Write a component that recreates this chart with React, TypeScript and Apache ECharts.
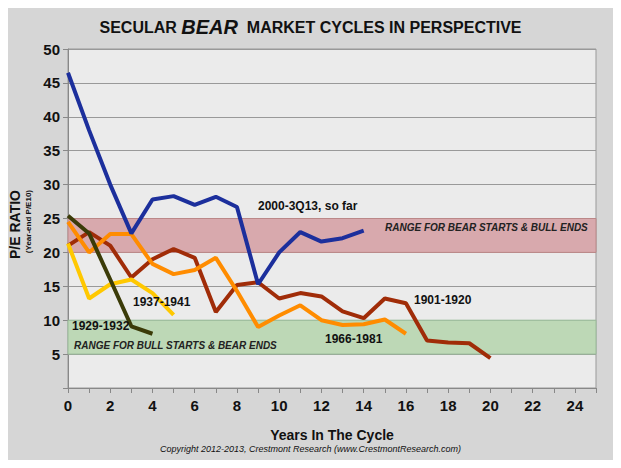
import * as echarts from 'echarts';
import { useEffect, useRef } from 'react';

const years = Array.from({ length: 21 }, (_, i) => i);
const bear2000 = [46.5, 38, 30, 22.8, 27.8, 28.3, 27, 28.2, 26.7, 15.3, 20, 23, 21.6, 22.1, 23.2];
const bear1901 = [21, 23, 21, 16.3, 19, 20.5, 19.2, 11.2, 15.2, 15.6, 13.2, 14, 13.5, 11.3, 10.3, 13.2, 12.5, 7, 6.7, 6.6, 4.4];
const bear1966 = [24.5, 20, 22.7, 22.7, 18.3, 16.8, 17.4, 19.2, 14.3, 9, 10.7, 12.2, 10, 9.3, 9.4, 10.1, 8];
const bear1937 = [21.3, 13.2, 15.3, 16, 14, 10.8];
const bear1929 = [25.4, 22.8, 16, 9.1, 8];

const toPairs = (vals: number[]) => vals.map((v, i) => [years[i], v]);

const App = () => {
    const chartRef = useRef<HTMLDivElement>(null);

    useEffect(() => {
        if (!chartRef.current) return;
        const chart = echarts.init(chartRef.current, null, { renderer: 'svg' });
        const line = (name: string, data: number[], color: string, extra: any = {}) => ({
            name,
            type: 'line',
            data: toPairs(data),
            symbol: 'none',
            lineStyle: { color, width: 4 },
            z: 3,
            ...extra,
        });
        const lbl = (text: string, x: number, y: number) => ({
            type: 'text', left: x, top: y, z: 10,
            style: { text, font: 'bold 12px Arial, "Liberation Sans"', fill: '#111' },
        });

        chart.setOption({
            animation: false,
            backgroundColor: '#d6d6d6',
            title: {
                text: '{n|SECULAR }{b|BEAR}{n|  MARKET CYCLES IN PERSPECTIVE}',
                left: 'center',
                top: 12,
                textStyle: {
                    rich: {
                        n: { fontSize: 16, fontWeight: 'bold', color: '#111', fontFamily: 'Arial, "Liberation Sans"' },
                        b: { fontSize: 20, fontWeight: 'bold', fontStyle: 'italic', color: '#111', fontFamily: 'Arial, "Liberation Sans"' },
                    },
                },
            },
            grid: { left: 68, right: 25, top: 49, bottom: 80, show: true, backgroundColor: '#ebebeb', borderColor: '#999' },
            xAxis: {
                type: 'value', min: 0, max: 25, interval: 1,
                name: 'Years In The Cycle', nameLocation: 'middle', nameGap: 40,
                nameTextStyle: { fontSize: 14, fontWeight: 'bold', color: '#111', fontFamily: 'Arial, "Liberation Sans"' },
                axisLabel: {
                    fontSize: 15, fontWeight: 'bold', color: '#111', margin: 10,
                    formatter: (v: number) => (v % 2 === 0 && v <= 24 ? String(v) : ''),
                },
                axisLine: { lineStyle: { color: '#888' } },
                axisTick: { show: true, interval: 0, lineStyle: { color: '#888' } },
                splitLine: { show: false },
            },
            yAxis: {
                type: 'value', min: 0, max: 50, interval: 5,
                axisLabel: {
                    fontSize: 15, fontWeight: 'bold', color: '#111',
                    formatter: (v: number) => (v === 0 ? '' : String(v)),
                },
                axisLine: { show: true, lineStyle: { color: '#888' } },
                splitLine: { lineStyle: { color: '#999' } },
            },
            graphic: [
                {
                    type: 'rect', left: 0, top: 0, z: -1,
                    shape: { x: 1, y: 1, width: 619, height: 466 },
                    style: { fill: 'none', stroke: '#8a8a8a', lineWidth: 4 },
                },
                {
                    type: 'text', left: 8, top: 190, rotation: Math.PI / 2, z: 10,
                    style: { text: 'P/E RATIO', font: 'bold 14px Arial, "Liberation Sans"', fill: '#111' },
                },
                {
                    type: 'text', left: 24, top: 190, rotation: Math.PI / 2, z: 10,
                    style: { text: '(Year-end P/E10)', font: 'bold 8px Arial, "Liberation Sans"', fill: '#111' },
                },
                lbl('2000-3Q13, so far', 258, 200),
                lbl('1901-1920', 414, 294),
                lbl('1966-1981', 325, 333),
                lbl('1937-1941', 133, 296),
                lbl('1929-1932', 72, 320),
                {
                    type: 'text', left: 385, top: 222, z: 10,
                    style: { text: 'RANGE FOR BEAR STARTS & BULL ENDS', font: 'italic bold 10px Arial, "Liberation Sans"', fill: '#222' },
                },
                {
                    type: 'text', left: 74, top: 340, z: 10,
                    style: { text: 'RANGE FOR BULL STARTS & BEAR ENDS', font: 'italic bold 10px Arial, "Liberation Sans"', fill: '#222' },
                },
                {
                    type: 'text', left: 'center', top: 444, z: 10,
                    style: { text: 'Copyright 2012-2013, Crestmont Research (www.CrestmontResearch.com)', font: 'italic 9px Arial, "Liberation Sans"', fill: '#111' },
                },
            ],
            series: [
                line('1901-1920', bear1901, '#a02c08', {
                    markArea: {
                        silent: true,
                        data: [
                            [{ yAxis: 20, itemStyle: { color: '#d8a9ad', borderColor: '#b88', borderWidth: 1 } }, { yAxis: 25 }],
                            [{ yAxis: 5, itemStyle: { color: '#bdd8b6', borderColor: '#9b9', borderWidth: 1 } }, { yAxis: 10 }],
                        ],
                    },
                }),
                line('1966-1981', bear1966, '#ff8c00'),
                line('1937-1941', bear1937, '#ffc800'),
                line('1929-1932', bear1929, '#3b3b08'),
                line('2000-3Q13', bear2000, '#1c2f9c'),
            ],
        });

        const onResize = () => chart.resize();
        window.addEventListener('resize', onResize);
        return () => {
            window.removeEventListener('resize', onResize);
            chart.dispose();
        };
    }, []);

    return <div ref={chartRef} style={{ width: 621, height: 468, margin: -8 }} />;
};

export default App;
